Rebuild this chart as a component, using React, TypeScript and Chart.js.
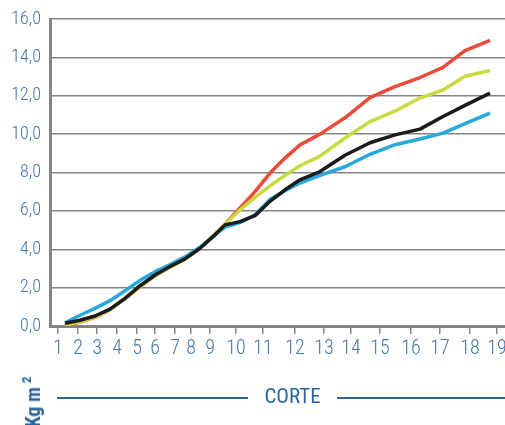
import React, { useEffect, useRef } from "react";
import { Chart, registerables } from "chart.js";

Chart.register(...registerables);

// Cut tick positions along the x axis (arbitrary time units)
const cutPositions = [8, 28, 47, 67, 87, 105, 125, 141, 160, 186, 213, 245, 274, 301, 330, 361, 390, 420, 447];
const cutLabels = ["1", "2", "3", "4", "5", "6", "7", "8", "9", "10", "11", "12", "13", "14", "15", "16", "17", "18", "19"];

// Sample positions of the curves (same units as cutPositions)
const sampleX = [15, 30, 45, 60, 75, 90, 105, 120, 135, 150, 165, 175, 190, 205, 220, 235, 250, 270, 295, 320, 345, 370, 393, 415, 440];

const blackSeries = [0.14, 0.3, 0.52, 0.88, 1.44, 2.1, 2.66, 3.1, 3.5, 4.05, 4.75, 5.27, 5.44, 5.75, 6.5, 7.1, 7.62, 8.05, 8.9, 9.55, 9.96, 10.26, 10.92, 11.5, 12.14];
const blueSeries = [0.17, 0.56, 0.92, 1.32, 1.84, 2.38, 2.83, 3.2, 3.6, 4.1, 4.75, 5.15, 5.39, 5.8, 6.6, 7.05, 7.45, 7.85, 8.3, 8.95, 9.45, 9.75, 10.05, 10.55, 11.1];
const yellowSeries = [0.05, 0.22, 0.46, 0.85, 1.42, 2.05, 2.62, 3.08, 3.5, 4.05, 4.8, 5.3, 6.05, 6.7, 7.3, 7.85, 8.35, 8.85, 9.8, 10.65, 11.2, 11.88, 12.3, 13.02, 13.32];
const redSeries = [0.02, 0.2, 0.45, 0.85, 1.42, 2.05, 2.62, 3.08, 3.5, 4.05, 4.8, 5.3, 6.15, 7.0, 7.97, 8.75, 9.44, 10.0, 10.85, 11.9, 12.48, 12.95, 13.48, 14.35, 14.88];

const yTicks = [0, 2, 4, 6, 8, 10, 12, 14, 16];

const FONT = "'Roboto Condensed', 'Open Sans', sans-serif";
const TICK_COLOR = "#4677ab";
const TITLE_COLOR = "#2b649c";
const AXIS_GREY = "#858585";

export default function App() {
  const ref = useRef<HTMLCanvasElement | null>(null);

  useEffect(() => {
    if (!ref.current) return;
    const toPts = (ys: number[]) => sampleX.map((x, i) => ({ x, y: ys[i] }));
    const ds = (label: string, ys: number[], color: string) => ({
      label,
      data: toPts(ys),
      borderColor: color,
      backgroundColor: color,
      borderWidth: 3.5,
      pointRadius: 0,
      tension: 0,
      borderJoinStyle: "round" as const,
      fill: false,
    });
    const chart = new Chart(ref.current, {
      type: "line",
      data: {
        datasets: [
          ds("A", blackSeries, "#1b1b1b"),
          ds("B", blueSeries, "#27a9e0"),
          ds("C", yellowSeries, "#c9da3f"),
          ds("D", redSeries, "#ec4b3a"),
        ],
      },
      options: {
        animation: false,
        responsive: false,
        maintainAspectRatio: false,
        layout: { padding: { top: 19, right: 0, left: 0, bottom: 0 } },
        plugins: { legend: { display: false }, tooltip: { enabled: false } },
        scales: {
          x: {
            type: "linear",
            min: 0,
            max: 455,
            afterBuildTicks: (scale: any) => {
              scale.ticks = cutPositions.map((v) => ({ value: v }));
            },
            afterFit: (scale: any) => {
              scale.height = 99;
              scale.paddingLeft = 0;
              scale.paddingRight = 0;
            },
            border: { display: true, color: AXIS_GREY, width: 3 },
            grid: {
              drawOnChartArea: false,
              drawTicks: true,
              tickLength: 8,
              color: AXIS_GREY,
              lineWidth: 1.5,
            },
            ticks: {
              autoSkip: false,
              maxRotation: 0,
              minRotation: 0,
              padding: 3,
              color: TICK_COLOR,
              font: { family: FONT, size: 20, weight: 300 },
              callback: (_v: any, i: number) => cutLabels[i],
            },
          },
          y: {
            min: 0,
            max: 16,
            afterBuildTicks: (scale: any) => {
              scale.ticks = yTicks.map((v) => ({ value: v }));
            },
            afterFit: (scale: any) => {
              scale.width = 50;
              scale.paddingTop = 0;
              scale.paddingBottom = 0;
            },
            border: { display: true, color: AXIS_GREY, width: 3 },
            grid: { drawTicks: false, color: AXIS_GREY, lineWidth: 1.5 },
            ticks: {
              padding: 9,
              color: TICK_COLOR,
              font: { family: FONT, size: 18, weight: 300 },
              callback: (v: any) => Number(v).toFixed(1).replace(".", ","),
            },
          },
        },
      },
    });
    return () => chart.destroy();
  }, []);

  return (
    <div style={{ position: "fixed", left: 0, top: 0, width: 505, height: 425, background: "#fff", overflow: "hidden" }}>
      <canvas ref={ref} width={505} height={425} style={{ width: 505, height: 425, display: "block" }} />
      <div style={{ position: "absolute", left: 57, top: 397, width: 191, height: 1.5, background: TITLE_COLOR }} />
      <div style={{ position: "absolute", left: 337, top: 397, width: 168, height: 1.5, background: TITLE_COLOR }} />
      <div
        style={{
          position: "absolute",
          left: 248,
          width: 89,
          top: 384,
          textAlign: "center",
          fontFamily: FONT,
          fontSize: 21,
          lineHeight: "24px",
          color: TITLE_COLOR,
        }}
      >
        CORTE
      </div>
      <div
        style={{
          position: "absolute",
          left: 33,
          top: 402,
          transform: "translate(-50%, -50%) rotate(-90deg)",
          whiteSpace: "nowrap",
          fontFamily: FONT,
          fontWeight: "bold",
          fontSize: 20,
          lineHeight: "20px",
          color: TITLE_COLOR,
        }}
      >
        Kg m<sup style={{ fontSize: 13, verticalAlign: "top", position: "relative", top: -6, marginLeft: 4 }}>2</sup>
      </div>
    </div>
  );
}
